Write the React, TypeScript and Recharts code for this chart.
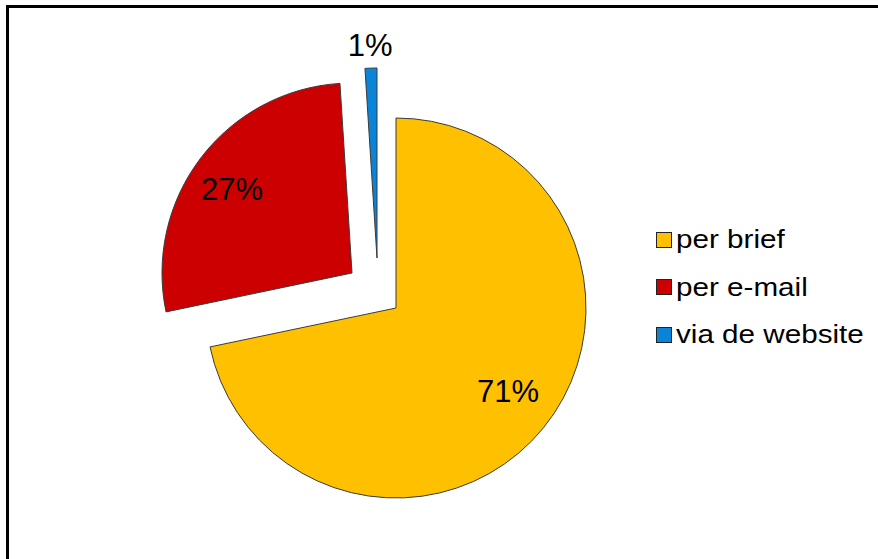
import { PieChart, Pie, Cell, Legend } from 'recharts'

const channels = ['per brief', 'per e-mail', 'via de website']
const shares = [71, 27, 1]
const colors = ['#FFC000', '#CC0000', '#0A84D8']

const data = channels.map((name, i) => ({ name, value: shares[i] }))

// each slice gets its own pie centre so the small ones can be pulled out
const centres = [
  { x: 396, y: 308 },
  { x: 352, y: 273 },
  { x: 377, y: 258 },
]
const labelRadius = [0.74, 0.76, 1.12]
const labelNudge = [
  { dx: 3, dy: -5 },
  { dx: -5, dy: 4 },
  { dx: 0, dy: 0 },
]
const RADIAN = Math.PI / 180
const font = '"Liberation Sans", Arial, sans-serif'

function makeLabel(slice: number) {
  return (p: any) => {
    if (p.index !== slice) return null
    const r = p.outerRadius * labelRadius[slice]
    const x = p.cx + r * Math.cos(-p.midAngle * RADIAN) + labelNudge[slice].dx
    const y = p.cy + r * Math.sin(-p.midAngle * RADIAN) + labelNudge[slice].dy
    return (
      <text x={x} y={y} textAnchor="middle" dominantBaseline="central" fill="#000" fontSize={31} fontFamily={font}>
        {shares[slice]}%
      </text>
    )
  }
}

function LegendBox() {
  return (
    <div style={{ fontFamily: font, fontSize: 26, color: '#000' }}>
      {channels.map((c, i) => (
        <div key={c} style={{ display: 'flex', alignItems: 'center', height: 47.5 }}>
          <span
            style={{
              width: 14,
              height: 14,
              background: colors[i],
              border: '1px solid #222',
              marginRight: 4,
              display: 'inline-block',
              flexShrink: 0,
            }}
          />
          <span style={{ display: 'inline-block', transform: 'scaleX(1.14)', transformOrigin: 'left center', whiteSpace: 'nowrap' }}>
            {c}
          </span>
        </div>
      ))}
    </div>
  )
}

export default function App() {
  return (
    <div style={{ position: 'fixed', left: 0, top: 0, width: 878, height: 559, overflow: 'hidden', background: '#fff' }}>
      <div
        style={{
          position: 'absolute',
          left: 6,
          top: 5,
          width: 1000,
          height: 700,
          borderTop: '3px solid #000',
          borderLeft: '3px solid #000',
        }}
      />
      <div style={{ position: 'absolute', left: 0, top: 0 }}>
        <PieChart width={878} height={559} margin={{ top: 0, right: 0, bottom: 0, left: 0 }}>
          {centres.map((c, s) => (
            <Pie
              key={s}
              data={data}
              dataKey="value"
              nameKey="name"
              cx={c.x}
              cy={c.y}
              outerRadius={190}
              startAngle={90}
              endAngle={-270}
              label={makeLabel(s)}
              labelLine={false}
              isAnimationActive={false}
            >
              {data.map((d, i) => (
                <Cell
                  key={d.name}
                  fill={i === s ? colors[i] : 'none'}
                  stroke={i === s ? '#3a3a3a' : 'none'}
                  strokeWidth={1}
                />
              ))}
            </Pie>
          ))}
          <Legend
            layout="vertical"
            content={() => <LegendBox />}
            wrapperStyle={{ position: 'absolute', left: 656, top: 216, width: 222 }}
          />
        </PieChart>
      </div>
    </div>
  )
}
